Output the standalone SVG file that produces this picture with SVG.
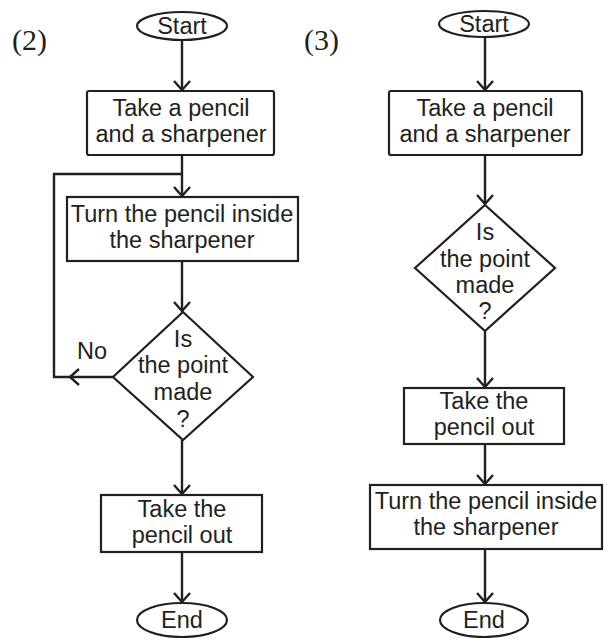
<svg xmlns="http://www.w3.org/2000/svg" width="612" height="638" viewBox="0 0 612 638">
<style>
.shape{fill:#fff;stroke:#231f20;stroke-width:2.2}
.t{font-family:"Liberation Sans",Arial,sans-serif;font-size:23.5px;fill:#231f20;text-anchor:middle}
.lbl{font-family:"Liberation Serif","Times New Roman",serif;font-size:30px;fill:#231f20}
.c{fill:none;stroke:#231f20;stroke-width:2.4}
</style>
<defs>
<marker id="arr" markerWidth="22" markerHeight="22" refX="11" refY="11" orient="auto" markerUnits="userSpaceOnUse">
<path d="M2,3 L11,11 L2,19" fill="none" stroke="#231f20" stroke-width="2.4"/>
</marker>
</defs>
<rect width="612" height="638" fill="#fff"/>
<text class="lbl" x="12" y="50">(2)</text>
<text class="lbl" x="304" y="50">(3)</text>

<g id="connectors">
<line class="c" x1="182" y1="40" x2="182" y2="90" marker-end="url(#arr)"/>
<line class="c" x1="182" y1="155" x2="182" y2="196" marker-end="url(#arr)"/>
<line class="c" x1="182" y1="261" x2="182" y2="311" marker-end="url(#arr)"/>
<line class="c" x1="113" y1="377" x2="70" y2="377" marker-end="url(#arr)"/>
<polyline class="c" points="72,377 54,377 54,174 182,174"/>
<line class="c" x1="182" y1="440" x2="182" y2="494" marker-end="url(#arr)"/>
<line class="c" x1="182" y1="552" x2="182" y2="602" marker-end="url(#arr)"/>

<line class="c" x1="485" y1="37" x2="485" y2="90" marker-end="url(#arr)"/>
<line class="c" x1="485" y1="155" x2="485" y2="204" marker-end="url(#arr)"/>
<line class="c" x1="485" y1="331" x2="485" y2="387" marker-end="url(#arr)"/>
<line class="c" x1="485" y1="444" x2="485" y2="484" marker-end="url(#arr)"/>
<line class="c" x1="485" y1="549" x2="485" y2="602" marker-end="url(#arr)"/>
</g>

<g id="start2">
<ellipse class="shape" cx="182" cy="26" rx="45" ry="14"/>
<text class="t" x="182" y="34">Start</text>
</g>
<g id="take2">
<rect class="shape" x="87" y="91" width="187" height="64" rx="2"/>
<text class="t" x="181" y="116">Take a pencil</text>
<text class="t" x="181" y="142">and a sharpener</text>
</g>
<g id="turn2">
<rect class="shape" x="67" y="197" width="231" height="64"/>
<text class="t" x="182" y="222">Turn the pencil inside</text>
<text class="t" x="182" y="248">the sharpener</text>
</g>
<g id="decision2">
<polygon class="shape" points="183,312 253,377 183,440 113,377"/>
<text class="t" x="183" y="347">Is</text>
<text class="t" x="183" y="373">the point</text>
<text class="t" x="183" y="400">made</text>
<text class="t" x="183" y="427">?</text>
</g>
<text class="t" x="92" y="359">No</text>
<g id="out2">
<rect class="shape" x="101" y="495" width="161" height="57"/>
<text class="t" x="182" y="517">Take the</text>
<text class="t" x="182" y="543">pencil out</text>
</g>
<g id="end2">
<ellipse class="shape" cx="182" cy="620" rx="45" ry="17"/>
<text class="t" x="182" y="628">End</text>
</g>

<g id="start3">
<ellipse class="shape" cx="484" cy="24" rx="45" ry="13"/>
<text class="t" x="484" y="32">Start</text>
</g>
<g id="take3">
<rect class="shape" x="389" y="91" width="193" height="64" rx="2"/>
<text class="t" x="485" y="116">Take a pencil</text>
<text class="t" x="485" y="142">and a sharpener</text>
</g>
<g id="decision3">
<polygon class="shape" points="485,205 555,268 485,331 415,268"/>
<text class="t" x="485" y="240">Is</text>
<text class="t" x="485" y="267">the point</text>
<text class="t" x="485" y="293">made</text>
<text class="t" x="485" y="319">?</text>
</g>
<g id="out3">
<rect class="shape" x="404" y="388" width="160" height="56"/>
<text class="t" x="484" y="409">Take the</text>
<text class="t" x="484" y="435">pencil out</text>
</g>
<g id="turn3">
<rect class="shape" x="370" y="485" width="232" height="64"/>
<text class="t" x="486" y="509">Turn the pencil inside</text>
<text class="t" x="486" y="535">the sharpener</text>
</g>
<g id="end3">
<ellipse class="shape" cx="484" cy="620" rx="44" ry="17"/>
<text class="t" x="484" y="628">End</text>
</g>
</svg>
